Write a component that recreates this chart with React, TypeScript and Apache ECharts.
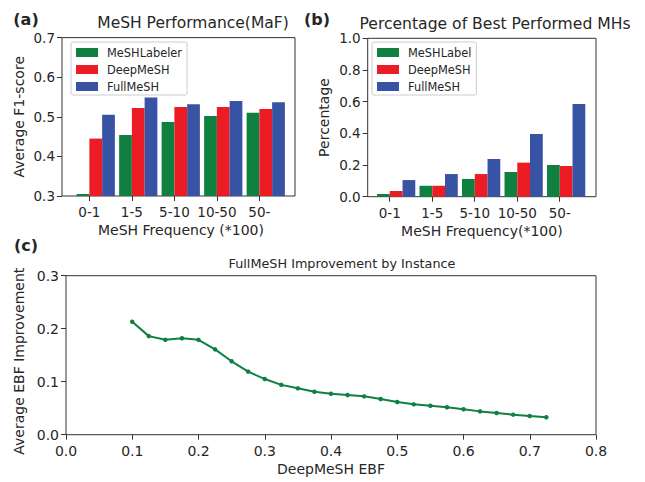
import React, { useEffect, useRef } from 'react';
import * as echarts from 'echarts';

const freqCategories = ['0-1', '1-5', '5-10', '10-50', '50-'];
const maFMeSHLabeler = [0.305, 0.454, 0.487, 0.502, 0.51];
const maFDeepMeSH = [0.445, 0.522, 0.525, 0.525, 0.52];
const maFFullMeSH = [0.505, 0.549, 0.532, 0.54, 0.537];
const bestMeSHLabel = [0.017, 0.069, 0.112, 0.156, 0.2];
const bestDeepMeSH = [0.036, 0.069, 0.143, 0.215, 0.194];
const bestFullMeSH = [0.105, 0.143, 0.238, 0.396, 0.585];
const ebfX = [0.1, 0.125, 0.15, 0.175, 0.2, 0.225, 0.25, 0.275, 0.3, 0.325, 0.35, 0.375, 0.4, 0.425, 0.45, 0.475, 0.5, 0.525, 0.55, 0.575, 0.6, 0.625, 0.65, 0.675, 0.7, 0.725];
const ebfImprovement = [0.213, 0.186, 0.179, 0.182, 0.179, 0.161, 0.1385, 0.119, 0.105, 0.094, 0.0875, 0.081, 0.0774, 0.075, 0.0724, 0.0673, 0.0617, 0.0573, 0.0547, 0.0517, 0.048, 0.044, 0.041, 0.0378, 0.0353, 0.0328];
const legendA = ['MeSHLabeler', 'DeepMeSH', 'FullMeSH'];
const legendB = ['MeSHLabel', 'DeepMeSH', 'FullMeSH'];

const GREEN = '#0f8040';
const RED = '#ec1c24';
const BLUE = '#3953a4';
const FONT = 'DejaVu Sans';
const AXIS = '#333333';
const TXT = '#262626';

const catIdx = freqCategories.map((_, i) => i);

function frameX(min: number, max: number, name: string, namePad: number) {
  return {
    type: 'value',
    min,
    max,
    name,
    nameLocation: 'middle',
    nameGap: 27,
    nameTextStyle: { fontSize: 14, color: TXT, fontFamily: FONT, padding: [0, 0, 0, namePad] },
    axisLine: { show: false, onZero: false },
    axisTick: { show: true, customValues: catIdx, length: 5, lineStyle: { color: AXIS } },
    axisLabel: {
      customValues: catIdx,
      formatter: (v: number) => freqCategories[Math.round(v)] ?? '',
      margin: 9,
      fontSize: 13.5,
      color: TXT,
      fontFamily: FONT,
    },
    splitLine: { show: false },
  };
}

function frameY(min: number, max: number, interval: number, name: string, gap: number, fs = 13.5, namePadRight = 0) {
  return {
    type: 'value',
    min,
    max,
    interval,
    name,
    nameLocation: 'middle',
    nameGap: gap,
    nameTextStyle: { fontSize: 14, color: TXT, fontFamily: FONT, padding: [0, namePadRight, 0, 0] },
    axisLine: { show: false, onZero: false },
    axisTick: { show: true, length: 5, lineStyle: { color: AXIS } },
    axisLabel: {
      formatter: (v: number) => v.toFixed(1),
      margin: 7,
      fontSize: fs,
      color: TXT,
      fontFamily: FONT,
    },
    splitLine: { show: false },
  };
}

function legend(data: string[], left: number) {
  return {
    data,
    orient: 'vertical',
    left,
    top: 42,
    icon: 'rect',
    itemWidth: 22,
    itemHeight: 9,
    itemGap: 6,
    padding: [5, 5, 3, 5],
    borderColor: '#cccccc',
    borderWidth: 1,
    borderRadius: 2,
    backgroundColor: '#ffffff',
    selectedMode: false,
    textStyle: { fontFamily: FONT, fontSize: 11.4, color: TXT, padding: [0, 0, 0, 4] },
  };
}

function txt(text: string, x: number, y: number, size: number, bold = false) {
  return {
    type: 'text',
    x,
    y,
    style: {
      text,
      fontSize: size,
      fontFamily: FONT,
      fontWeight: bold ? 'bold' : 'normal',
      fill: TXT,
      align: 'center',
      verticalAlign: 'middle',
    },
  };
}

function bar(name: string, data: number[], color: string, axis: number) {
  return {
    type: 'bar',
    name,
    data,
    xAxisIndex: axis,
    yAxisIndex: axis,
    barGap: '0%',
    barCategoryGap: '10%',
    itemStyle: { color },
  };
}

export default function App() {
  const ref = useRef<HTMLDivElement>(null);
  useEffect(() => {
    if (!ref.current) return;
    const chart = echarts.init(ref.current, undefined, { renderer: 'svg' });
    const hiddenCat = (gridIndex: number) => ({ type: 'category', gridIndex, data: freqCategories, show: false });
    chart.setOption({
      animation: false,
      backgroundColor: '#ffffff',
      textStyle: { fontFamily: FONT },
      grid: [
        { left: 62, top: 37.6, width: 233, height: 158.4, show: true, borderColor: AXIS, borderWidth: 1, backgroundColor: 'transparent' },
        { left: 74.5, top: 37.6, width: 212.5, height: 158.4 },
        { left: 367.7, top: 38.3, width: 228.3, height: 158.4, show: true, borderColor: AXIS, borderWidth: 1, backgroundColor: 'transparent' },
        { left: 374.9, top: 38.3, width: 212.5, height: 158.4 },
        { left: 66, top: 275.7, width: 530, height: 159, show: true, borderColor: AXIS, borderWidth: 1, backgroundColor: 'transparent' },
      ],
      xAxis: [
        { ...frameX(-0.6447, 4.8377, 'MeSH Frequency (*100)', 5), gridIndex: 0 },
        hiddenCat(1),
        { ...frameX(-0.5188, 4.853, 'MeSH Frequency(*100)', 0), gridIndex: 2 },
        hiddenCat(3),
        {
          type: 'value',
          gridIndex: 4,
          min: 0,
          max: 0.8,
          interval: 0.1,
          name: 'DeepMeSH EBF',
          nameLocation: 'middle',
          nameGap: 27,
          nameTextStyle: { fontSize: 14, color: TXT, fontFamily: FONT },
          axisLine: { show: false, onZero: false },
          axisTick: { show: true, length: 5, lineStyle: { color: AXIS } },
          axisLabel: { formatter: (v: number) => v.toFixed(1), margin: 9, fontSize: 14, color: TXT, fontFamily: FONT },
          splitLine: { show: false },
        },
      ],
      yAxis: [
        { ...frameY(0.3, 0.7, 0.1, 'Average F1-score', 36), gridIndex: 0 },
        { type: 'value', gridIndex: 1, min: 0.3, max: 0.7, show: false, splitLine: { show: false } },
        { ...frameY(0, 1, 0.2, 'Percentage', 37), gridIndex: 2 },
        { type: 'value', gridIndex: 3, min: 0, max: 1, show: false, splitLine: { show: false } },
        { ...frameY(0, 0.3, 0.1, 'Average EBF Improvement', 40, 14, 12), gridIndex: 4 },
      ],
      legend: [legend(legendA, 71), legend(legendB, 372)],
      series: [
        bar(legendA[0], maFMeSHLabeler, GREEN, 1),
        bar(legendA[1], maFDeepMeSH, RED, 1),
        bar(legendA[2], maFFullMeSH, BLUE, 1),
        bar(legendB[0], bestMeSHLabel, GREEN, 3),
        bar(legendB[1], bestDeepMeSH, RED, 3),
        bar(legendB[2], bestFullMeSH, BLUE, 3),
        {
          type: 'line',
          name: 'EBF',
          xAxisIndex: 4,
          yAxisIndex: 4,
          data: ebfX.map((x, i) => [x, ebfImprovement[i]]),
          symbol: 'circle',
          symbolSize: 4.5,
          showSymbol: true,
          lineStyle: { color: GREEN, width: 2 },
          itemStyle: { color: GREEN },
        },
      ],
      graphic: [
        txt('(a)', 26, 19, 16, true),
        txt('(b)', 317, 19, 16, true),
        txt('(c)', 26, 245, 16, true),
        txt('MeSH Performance(MaF)', 193, 23, 15.5),
        txt('Percentage of Best Performed MHs', 495, 24, 15.6),
        txt('FullMeSH Improvement by Instance', 342, 263, 12.8),
      ],
    });
    return () => chart.dispose();
  }, []);
  return <div ref={ref} style={{ position: 'fixed', left: 0, top: 0, width: 645, height: 482 }} />;
}
